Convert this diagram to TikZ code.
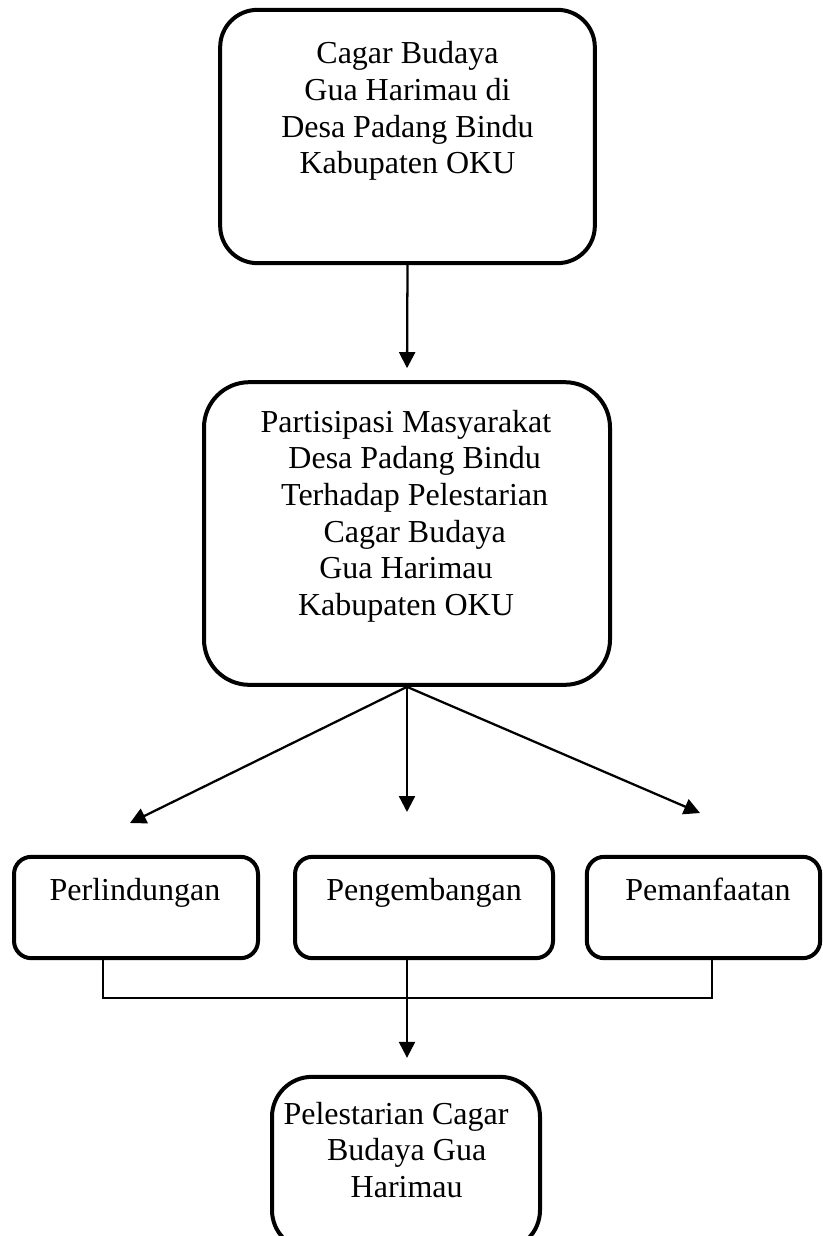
\documentclass[tikz,border=0pt]{standalone}
\usepackage{fontspec}
\setmainfont{Liberation Serif}
\usepackage{tikz}
\usetikzlibrary{arrows.meta,positioning}
\tikzset{
  >={Triangle[length=12pt,width=12pt]},
  line cap=round,
  line join=round,
  box/.style={draw, line width=3pt, inner sep=0pt},
  bigbox/.style={box, rounded corners=28pt},
  smallbox/.style={box, rounded corners=13pt, minimum height=76pt},
  txt/.style={align=center, inner sep=0pt, font=\fontsize{24}{27.5}\selectfont},
  arrow/.style={->, line width=1.7pt},
  link/.style={line width=1.7pt}
}
\begin{document}
\begin{tikzpicture}[x=0.75pt,y=-0.75pt]
    \useasboundingbox (0,0) rectangle (823,1236);

    % kotak atas
    \node[bigbox, minimum width=281pt, minimum height=190pt] (cagar) at (407.5,136.5) {};
    \node[txt] at (407.5,111) {Cagar Budaya\\Gua Harimau di\\Desa Padang Bindu\\Kabupaten OKU};

    % kotak partisipasi
    \node[bigbox, rounded corners=34pt, minimum width=304.5pt, minimum height=227pt] (partisipasi) at (407,533.5) {};
    \node[txt] at (406,516) {Partisipasi Masyarakat\\\hspace*{13pt}Desa Padang Bindu\\\hspace*{13pt}Terhadap Pelestarian\\\hspace*{13pt}Cagar Budaya\\Gua Harimau\\Kabupaten OKU};

    % tiga bentuk pelestarian
    \node[smallbox, minimum width=183pt] (perlindungan) at (136,907.5) {};
    \node[smallbox, minimum width=193.5pt] (pengembangan) at (424,907.5) {};
    \node[smallbox, minimum width=175pt] (pemanfaatan) at (703.5,907.5) {};
    \node[txt, anchor=base] at (135,900) {Perlindungan};
    \node[txt, anchor=base] at (424,900) {Pengembangan};
    \node[txt, anchor=base] at (708,900) {Pemanfaatan};

    % kotak hasil
    \node[bigbox, rounded corners=30pt, minimum width=201pt, minimum height=130pt] (pelestarian) at (406,1163.5) {};
    \node[txt] at (396,1150) {Pelestarian Cagar\\\hspace*{16pt}Budaya Gua\\\hspace*{16pt}Harimau};

    % panah
    \coordinate (tipL) at (130,823);
    \coordinate (tipM) at (407,812);
    \coordinate (tipR) at (700,813);
    \coordinate (hubL) at (103,998);
    \coordinate (hubM) at (407,998);
    \coordinate (hubR) at (712,998);

    \draw[arrow, shorten >=9pt] (cagar.south) -- (partisipasi.north);
    \draw[arrow] (partisipasi.south) -- (tipL);
    \draw[arrow] (partisipasi.south) -- (tipM);
    \draw[arrow] (partisipasi.south) -- (tipR);

    % garis penghubung
    \draw[link] (perlindungan.south -| hubL) -- (hubL) -- (hubR) -- (pemanfaatan.south -| hubR);
    \draw[arrow, shorten >=12.75pt] (pengembangan.south -| hubM) -- (hubM |- pelestarian.north);
\end{tikzpicture}
\end{document}
